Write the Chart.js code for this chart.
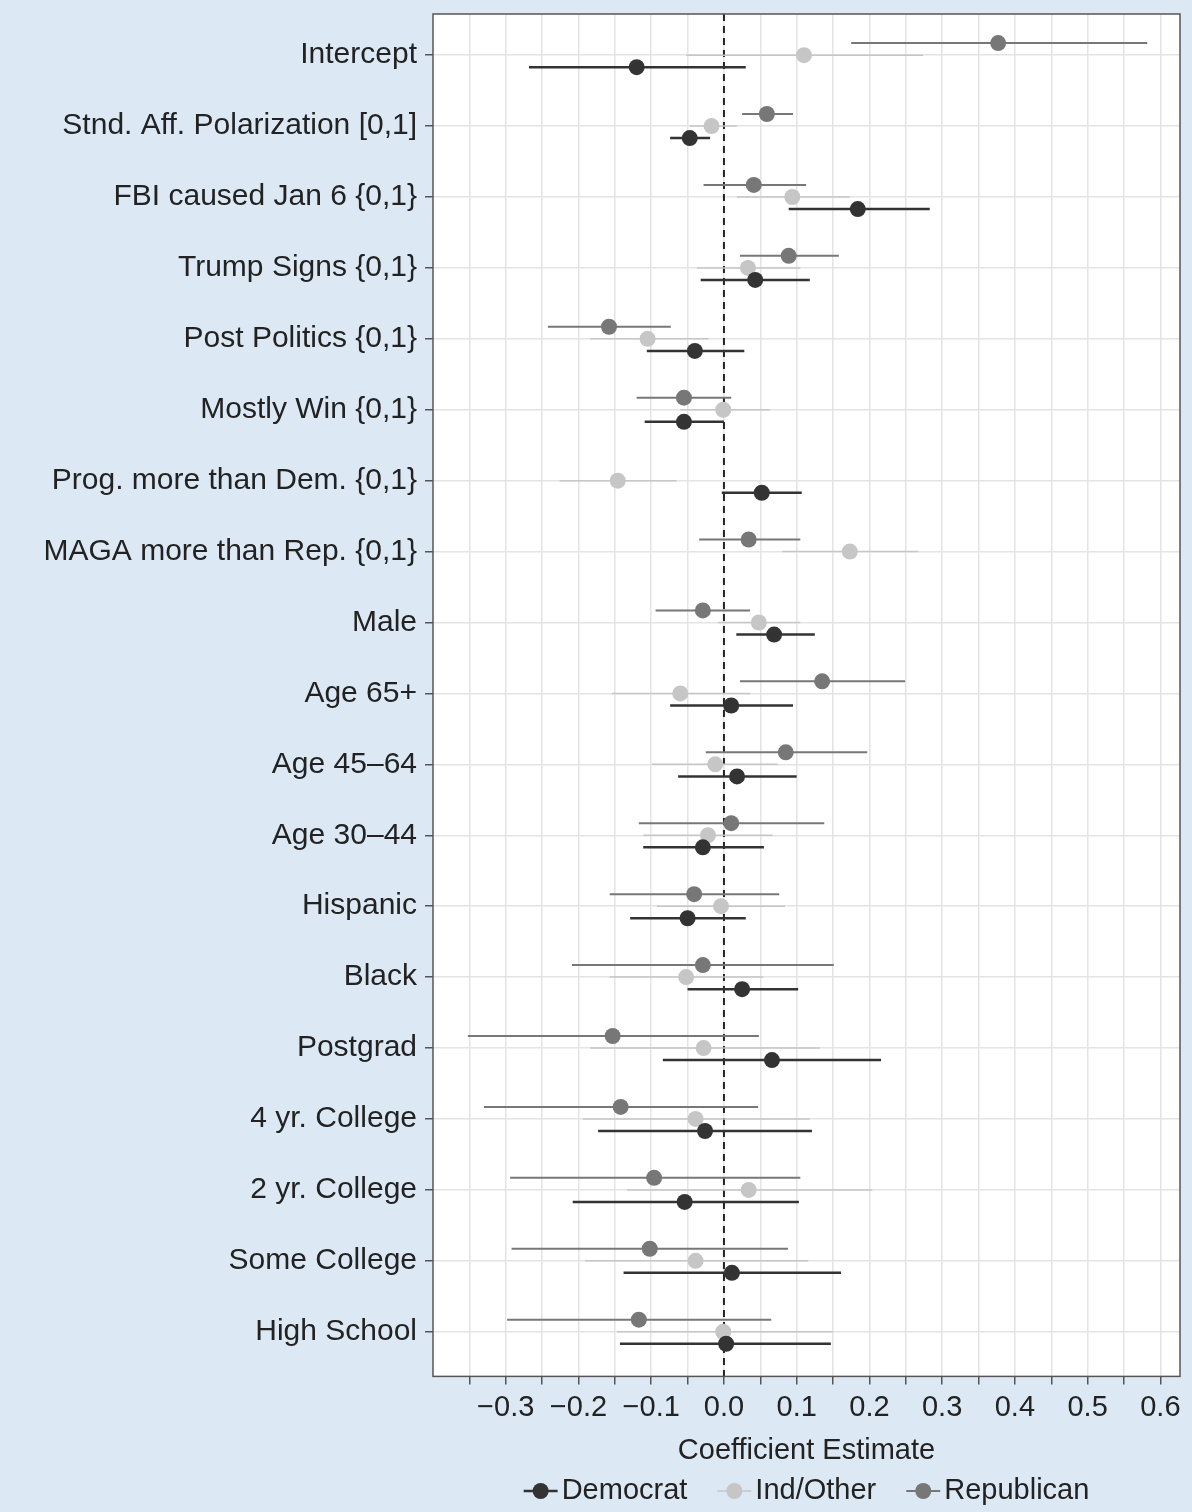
<!DOCTYPE html>
<html>
<head>
<meta charset="utf-8">
<script src="https://cdn.jsdelivr.net/npm/chart.js@4"></script>
<style>
  body { margin: 0; background: #dce9f5; }
  #wrap { width: 1192px; height: 1512px; }
</style>
</head>
<body>
<div id="wrap"><canvas id="coefChart"></canvas></div>
<script>
const terms = ["Intercept", "Stnd. Aff. Polarization [0,1]", "FBI caused Jan 6 {0,1}", "Trump Signs {0,1}",
  "Post Politics {0,1}", "Mostly Win {0,1}", "Prog. more than Dem. {0,1}", "MAGA more than Rep. {0,1}",
  "Male", "Age 65+", "Age 45\u201364", "Age 30\u201344", "Hispanic", "Black", "Postgrad",
  "4 yr. College", "2 yr. College", "Some College", "High School"];

// [estimate, low, high] per term, null where not estimated
const demEst = [[-0.12,-0.268,0.03],[-0.047,-0.074,-0.019],[0.184,0.089,0.283],[0.043,-0.032,0.118],
  [-0.04,-0.106,0.028],[-0.055,-0.109,0],[0.052,-0.003,0.107],null,[0.069,0.017,0.125],
  [0.01,-0.074,0.095],[0.018,-0.063,0.1],[-0.029,-0.111,0.055],[-0.05,-0.129,0.03],
  [0.025,-0.05,0.102],[0.066,-0.084,0.216],[-0.026,-0.173,0.121],[-0.054,-0.208,0.103],
  [0.011,-0.138,0.161],[0.003,-0.143,0.147]];
const indEst = [[0.11,-0.052,0.274],[-0.017,-0.047,0.018],[0.094,0.018,0.173],[0.033,-0.037,0.105],
  [-0.105,-0.184,-0.021],[-0.001,-0.06,0.063],[-0.146,-0.226,-0.065],[0.173,0.08,0.267],
  [0.048,-0.008,0.105],[-0.06,-0.154,0.036],[-0.012,-0.099,0.074],[-0.022,-0.111,0.067],
  [-0.004,-0.092,0.084],[-0.052,-0.157,0.054],[-0.028,-0.184,0.132],[-0.039,-0.194,0.118],
  [0.034,-0.133,0.204],[-0.039,-0.191,0.116],[-0.001,-0.147,0.15]];
const repEst = [[0.377,0.175,0.582],[0.059,0.025,0.095],[0.041,-0.028,0.113],[0.089,0.022,0.158],
  [-0.158,-0.242,-0.073],[-0.055,-0.12,0.01],null,[0.034,-0.034,0.105],[-0.029,-0.094,0.036],
  [0.135,0.022,0.249],[0.085,-0.025,0.197],[0.01,-0.117,0.138],[-0.041,-0.157,0.076],
  [-0.029,-0.209,0.151],[-0.153,-0.352,0.048],[-0.142,-0.33,0.047],[-0.096,-0.294,0.105],
  [-0.102,-0.292,0.088],[-0.117,-0.298,0.065]];
const xTicks = [-0.3, -0.2, -0.1, 0.0, 0.1, 0.2, 0.3, 0.4, 0.5, 0.6];

const groups = [
  { label: "Democrat", est: demEst, off: 0.17, color: "#333333", width: 2.5 },
  { label: "Ind/Other", est: indEst, off: 0, color: "#c6c6c6", width: 1.5 },
  { label: "Republican", est: repEst, off: -0.17, color: "#777777", width: 2 }
];

const FONT = "'Liberation Sans', Arial, sans-serif";

function points(g) {
  const out = [];
  g.est.forEach((e, i) => { if (e) out.push({ x: e[0], y: i + g.off, lo: e[1], hi: e[2] }); });
  return out;
}

const framePlugin = {
  id: "frame",
  beforeDraw(chart) {
    const { ctx, chartArea: a } = chart;
    ctx.save();
    ctx.fillStyle = "#dce9f5";
    ctx.fillRect(0, 0, chart.width, chart.height);
    ctx.fillStyle = "#ffffff";
    ctx.fillRect(a.left, a.top, a.right - a.left, a.bottom - a.top);
    ctx.restore();
  },
  beforeDatasetsDraw(chart) {
    const { ctx, chartArea: a, scales } = chart;
    ctx.save();
    const x0 = scales.x.getPixelForValue(0);
    ctx.strokeStyle = "#222";
    ctx.lineWidth = 2;
    ctx.setLineDash([7, 5]);
    ctx.beginPath(); ctx.moveTo(x0, a.top); ctx.lineTo(x0, a.bottom); ctx.stroke();
    ctx.setLineDash([]);
    chart.data.datasets.forEach((ds) => {
      ctx.strokeStyle = ds.backgroundColor;
      ctx.lineWidth = ds.barWidth;
      ds.data.forEach((p) => {
        const y = scales.y.getPixelForValue(p.y);
        ctx.beginPath();
        ctx.moveTo(scales.x.getPixelForValue(p.lo), y);
        ctx.lineTo(scales.x.getPixelForValue(p.hi), y);
        ctx.stroke();
      });
    });
    ctx.restore();
  },
  afterDraw(chart) {
    const { ctx, chartArea: a } = chart;
    ctx.save();
    ctx.strokeStyle = "#555";
    ctx.lineWidth = 1.5;
    ctx.strokeRect(a.left, a.top, a.right - a.left, a.bottom - a.top);
    // legend: line-through-circle keys, centred under the plot area
    ctx.font = "29px " + FONT;
    ctx.textBaseline = "middle";
    const y = chart.height - 21;
    const gap = 30, key = 34;
    const widths = chart.data.datasets.map((ds) => key + 4 + ctx.measureText(ds.label).width);
    const total = widths.reduce((s, w) => s + w, 0) + gap * (widths.length - 1);
    let x = (a.left + a.right) / 2 - total / 2;
    chart.data.datasets.forEach((ds, i) => {
      ctx.strokeStyle = ds.backgroundColor;
      ctx.fillStyle = ds.backgroundColor;
      ctx.lineWidth = ds.barWidth;
      ctx.beginPath(); ctx.moveTo(x, y); ctx.lineTo(x + key, y); ctx.stroke();
      ctx.beginPath(); ctx.arc(x + key / 2, y, 8, 0, Math.PI * 2); ctx.fill();
      ctx.fillStyle = "#222";
      ctx.fillText(ds.label, x + key + 4, y);
      x += widths[i] + gap;
    });
    ctx.restore();
  }
};

const minorTicks = [];
for (let k = -7; k <= 12; k++) minorTicks.push({ value: k * 0.05 });

new Chart(document.getElementById("coefChart"), {
  type: "scatter",
  data: {
    datasets: groups.map((g) => ({
      label: g.label,
      data: points(g),
      backgroundColor: g.color,
      borderColor: g.color,
      barWidth: g.width,
      pointRadius: 8,
      pointHoverRadius: 8,
      borderWidth: 0
    }))
  },
  options: {
    responsive: true,
    maintainAspectRatio: false,
    animation: false,
    layout: { padding: { top: 8, right: 12, bottom: 44, left: 0 } },
    plugins: {
      tooltip: { enabled: false },
      legend: { display: false }
    },
    scales: {
      x: {
        type: "linear", min: -0.4, max: 0.627,
        afterBuildTicks: (s) => { s.ticks = minorTicks.slice(); },
        ticks: {
          color: "#222", font: { family: FONT, size: 29 }, autoSkip: false, maxRotation: 0, padding: 6,
          callback: (v) => {
            const r = Math.round(v * 100);
            if (r % 10 !== 0 || r < -30) return "";
            return (r < 0 ? "\u2212" : "") + (Math.abs(r) / 100).toFixed(1);
          }
        },
        grid: { color: "#e4e4e4", lineWidth: 1.5, tickLength: 8, tickColor: "#555", drawTicks: true },
        border: { display: false },
        title: { display: true, text: "Coefficient Estimate", color: "#222", font: { family: FONT, size: 29 }, padding: { top: 2, bottom: 0 } }
      },
      y: {
        type: "linear", min: -0.58, max: 18.63, reverse: true,
        afterBuildTicks: (s) => { s.ticks = terms.map((t, i) => ({ value: i })); },
        afterFit: (s) => { s.width = 433; },
        ticks: {
          color: "#222", font: { family: FONT, size: 30, lineHeight: 0.4 }, autoSkip: false, padding: 8,
          callback: (v) => terms[v]
        },
        grid: { color: "#e4e4e4", lineWidth: 1.5, tickLength: 8, tickColor: "#555" },
        border: { display: false }
      }
    }
  },
  plugins: [framePlugin]
});
</script>
</body>
</html>
